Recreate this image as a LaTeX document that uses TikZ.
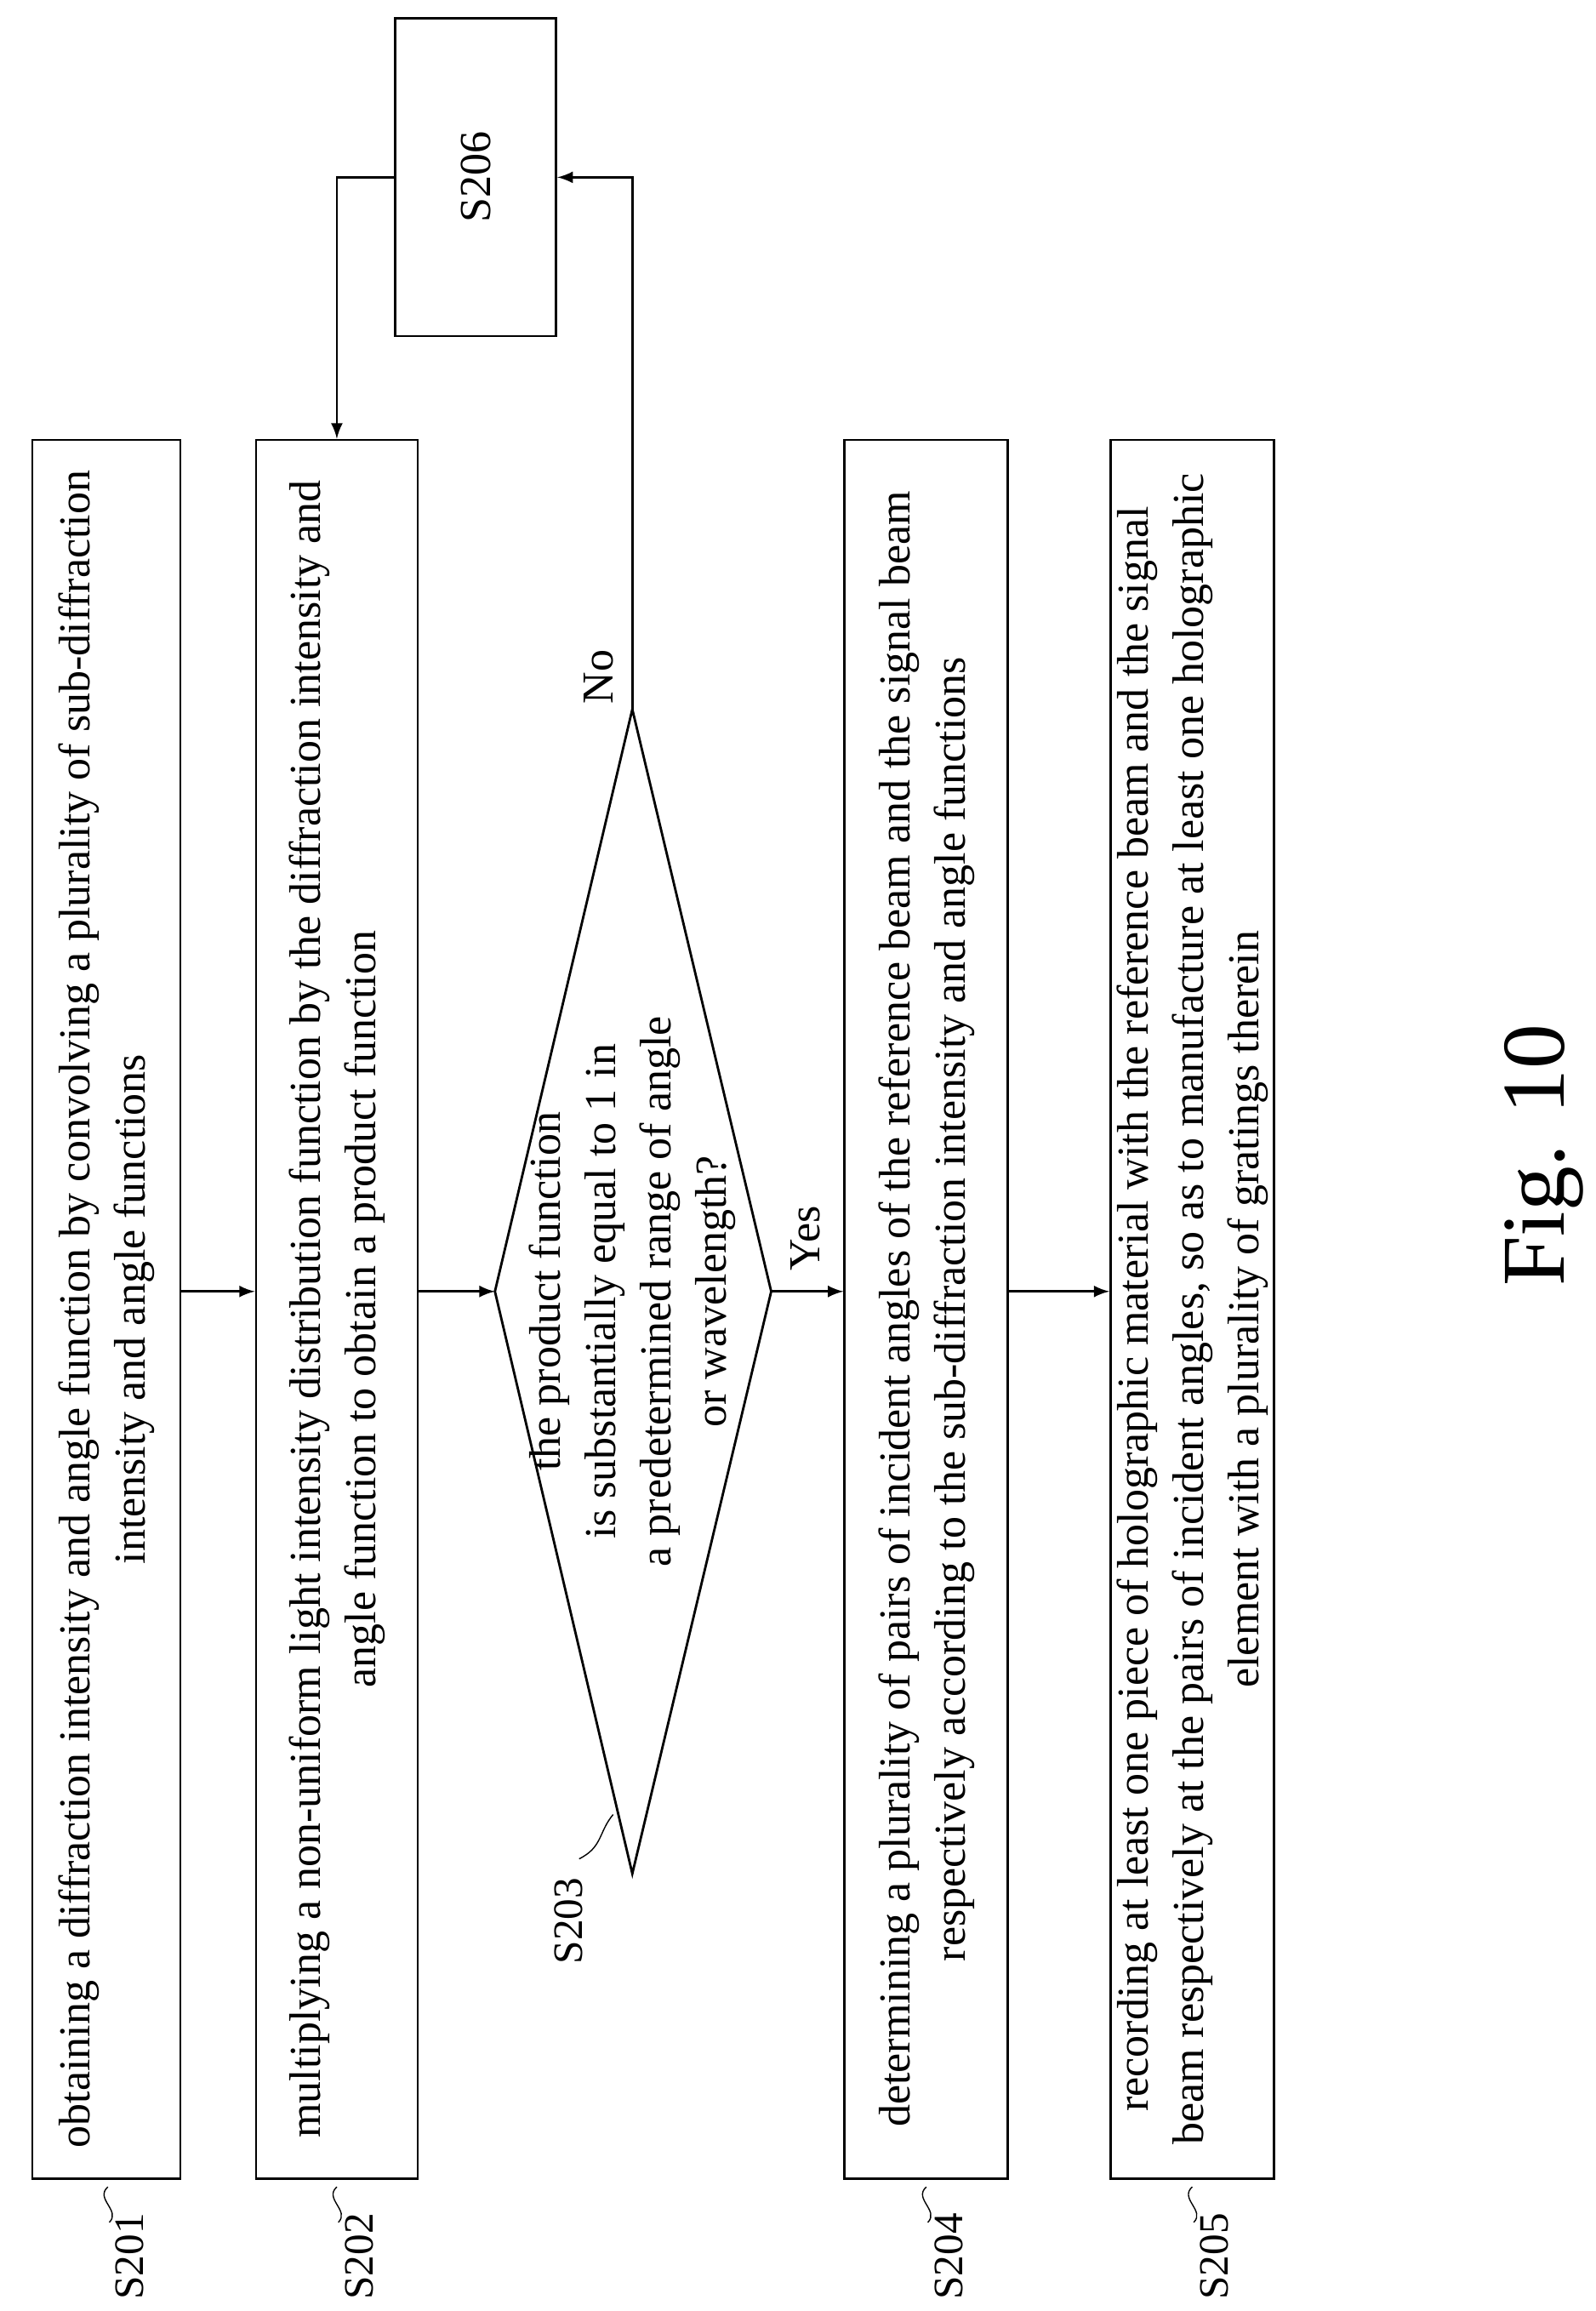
\documentclass[tikz,border=0pt]{standalone}
\usepackage{fontspec}
\setmainfont{Liberation Serif}
\usetikzlibrary{arrows,shapes}

\tikzset{
	stepbox/.style={draw, thick, rotate=90, align=center, inner sep=2pt,
		minimum width=20.43cm, font=\fontsize{14.8}{18.5}\selectfont},
	lbl/.style={rotate=90, font=\fontsize{14}{16}\selectfont},
	arr/.style={thick, -latex}
}

\begin{document}
\begin{tikzpicture}[x=0.017361cm, y=-0.017361cm]
\useasboundingbox (0,0) rectangle (1080,1564);

\node[stepbox, minimum height=1.74cm] (s201) at (72,886) {obtaining a diffraction intensity and angle function by convolving a plurality of sub-diffraction\\ intensity and angle functions};
\node[stepbox, minimum height=1.9cm] (s202) at (228,886) {multiplying a non-uniform light intensity distribution function by the diffraction intensity and\\ angle function to obtain a product function};
\node[stepbox, minimum height=1.92cm] (s204) at (627,886) {determining a plurality of pairs of incident angles of the reference beam and the signal beam\\ respectively according to the sub-diffraction intensity and angle functions};
\node[stepbox, minimum height=1.9cm] (s205) at (807,886) {recording at least one piece of holographic material with the reference beam and the signal\\ beam respectively at the pairs of incident angles, so as to manufacture at least one holographic\\ element with a plurality of gratings therein};
\node[stepbox, minimum width=3.73cm, minimum height=1.89cm] (s206) at (322,120) {S206};

% decision
\coordinate (dl) at (335,874);
\coordinate (dr) at (522,874);
\coordinate (dt) at (428,480);
\coordinate (db) at (428,1268);
\draw[thick] (dl) -- (dt) -- (dr) -- (db) -- cycle;
\node[lbl, align=center, font=\fontsize{14.8}{18.5}\selectfont] (s203) at (428,874) {the product function\\ is substantially equal to 1 in\\ a predetermined range of angle\\ or wavelength?};

% connectors
\draw[arr] (s201.south |- dl) -- (s202.north |- dl);
\draw[arr] (s202.south |- dl) -- (dl);
\draw[arr] (dr) -- (s204.north |- dl);
\node[lbl, font=\fontsize{14.8}{17}\selectfont] (yeslbl) at (545,838) {Yes};
\draw[arr] (s204.south |- dl) -- (s205.north |- dl);
\draw[arr] (dt) -- (dt |- s206) -- (s206.south);
\node[lbl, font=\fontsize{14.8}{17}\selectfont] (nolbl) at (405,458) {No};
\draw[arr] (s206.north) -- (228,120) -- (s202.east);

% step labels
\foreach \n/\x in {201/88,202/243,204/642,205/822}{
	\draw (\x-15,1480) .. controls (\x-24,1488) and (\x-6,1496) .. (\x-14,1504);
	\node[lbl] (l\n) at (\x,1527) {S\n};
}
\draw (415,1228) .. controls (405,1240) and (408,1250) .. (392,1258);
\node[lbl] (l203) at (385,1300) {S203};

\node[rotate=90, font=\fontsize{30}{34}\selectfont] (fig) at (1045,782) {Fig. 10};
\end{tikzpicture}
\end{document}
